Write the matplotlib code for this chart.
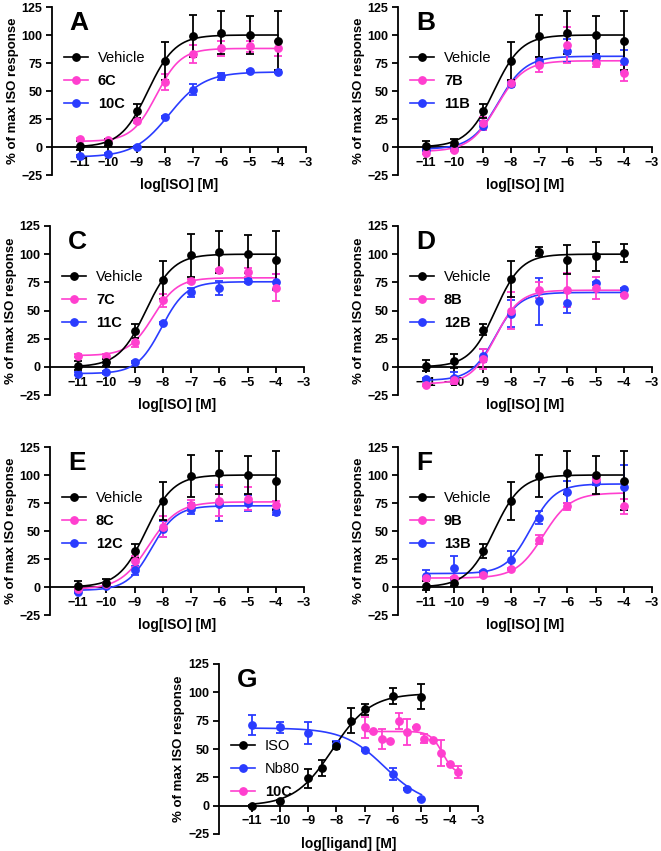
import numpy as np
import matplotlib
matplotlib.use('Agg')
from matplotlib import pyplot as plt
from matplotlib.lines import Line2D

plt.rcParams['font.family'] = ['Liberation Sans', 'DejaVu Sans']

BLACK = '#000000'
PINK = '#ff3fcf'
BLUE = '#2a3cff'

# concentrations, log M
iso_x = [-11, -10, -9, -8, -7, -6, -5, -4]

# vehicle (shared by A, B, C, E, F)
veh_y = [1, 4, 32, 77, 99, 102, 100, 95]
veh_err = [4, 3, 6, 17, 19, 19, 17, 26]
veh_fit = (0, 100, -8.6, 0.9)  # bottom, top, logEC50, hill

# A
a6c_y = [7, 6, 23, 58, 83, 88, 90, 88]
a6c_err = [1, 1, 2, 7, 8, 7, 5, 7]
a6c_fit = (5, 88, -8.3, 1.0)
a10c_y = [-8, -6, 0, 27, 51, 63, 68, 67]
a10c_err = [1, 1, 1, 1, 5, 3, 1, 1]
a10c_fit = (-9, 67, -7.85, 0.7)

# B
b7b_y = [-5, -3, 21, 57, 73, 91, 75, 66]
b7b_err = [1, 1, 6, 3, 6, 16, 4, 7]
b7b_fit = (-4, 77, -8.5, 0.9)
b11b_y = [-3, -2, 19, 56, 77, 86, 80, 77]
b11b_err = [1, 1, 4, 2, 3, 10, 3, 10]
b11b_fit = (-2, 81, -8.45, 0.9)

# C
c7c_y = [10, 10, 22, 59, 76, 86, 84, 70]
c7c_err = [1, 1, 4, 6, 2, 1, 4, 12]
c7c_fit = (10, 79, -8.35, 1.0)
c11c_y = [-6, -5, 4, 39, 66, 70, 76, 75]
c11c_err = [1, 1, 1, 1, 4, 6, 2, 7]
c11c_fit = (-6, 75.5, -8.05, 1.0)

# D
dveh_y = [1, 5, 33, 78, 102, 95, 98, 101]
dveh_err = [5, 6, 5, 16, 4, 13, 13, 8]
dveh_fit = (0, 100, -8.55, 0.95)
d8b_y = [-16, -12, 7, 50, 68, 68, 70, 64]
d8b_err = [1, 3, 9, 16, 7, 15, 10, 1]
d8b_fit = (-15, 68, -8.55, 1.0)
d12b_y = [-11, -10, 10, 47, 58, 57, 74, 69]
d12b_err = [1, 5, 6, 12, 21, 9, 1, 1]
d12b_fit = (-12, 66, -8.55, 1.0)

# E
e8c_y = [-1.5, 2.4, 23, 54, 73, 77, 79, 73]
e8c_err = [1, 1, 5, 9, 5, 14, 10, 4]
e8c_fit = (-2, 76, -8.5, 0.85)
e12c_y = [-4.5, 0.6, 15, 52, 70, 74, 75, 67]
e12c_err = [1, 1, 4, 7, 5, 15, 7, 3]
e12c_fit = (-3, 72.5, -8.4, 1.0)

# F
f9b_y = [8, 8, 11, 16, 42, 72, 96, 72]
f9b_err = [1, 1, 1, 1, 4, 3, 3, 7]
f9b_fit = (8, 84, -6.85, 0.9)
f13b_y = [10, 17, 13, 24, 62, 85, 94, 89]
f13b_err = [5, 11, 1, 8, 6, 10, 3, 20]
f13b_fit = (12, 92, -7.3, 1.0)

# G
g_iso_x = [-11, -10, -9, -8.5, -8, -7.5, -7, -6, -5]
g_iso_y = [0, 4.4, 24, 33, 53, 75, 85, 97, 96]
g_iso_err = [1, 1, 8, 7, 3, 11, 5, 7, 11]
g_iso_fit = (0, 99, -8.14, 0.65)
g_nb_x = [-11, -10, -9, -8, -7, -6, -5.5, -5]
g_nb_y = [71, 69, 64, 54, 49, 28, 15, 6]
g_nb_err = [9, 5, 10, 3, 1, 5, 1, 1]
g_nb_fit = (0, 68.5, -6.3, -0.6)
g_10c_x = [-7, -6.7, -6.4, -6.1, -5.8, -5.5, -5.2, -4.9, -4.6, -4.3, -4.0, -3.7]
g_10c_y = [69, 65.5, 58.7, 57.5, 75, 65, 69, 59, 58, 46.5, 36.7, 29.6]
g_10c_err = [9, 0, 9, 0, 7, 11.5, 0, 4, 0, 11.5, 0, 5.5]
g_10c_fit = (27, 65.5, -4.25, -2.0)


def fourpl(x, fit):
    bottom, top, ec, hill = fit
    return bottom + (top - bottom) / (1 + 10 ** (hill * (ec - x)))


def series(ax, x, y, err, fit, color):
    xs = np.linspace(min(x), max(x), 200)
    ax.plot(xs, fourpl(xs, fit), color=color, lw=1.2, zorder=3, clip_on=False)
    ax.errorbar(x, y, yerr=err, fmt='o', color=color, ms=5.3, elinewidth=1.3,
                capsize=3, capthick=1.3, zorder=4, clip_on=False)


def style(ax, letter, xlabel, xmin=-12):
    ax.set_xlim(xmin, -3)
    ax.set_ylim(-25, 125)
    for s in ['top', 'right']:
        ax.spines[s].set_visible(False)
    ax.spines['bottom'].set_position(('data', 0))
    ax.spines['bottom'].set_bounds(xmin, -3)
    ax.spines['left'].set_bounds(-25, 125)
    for s in ['bottom', 'left']:
        ax.spines[s].set_linewidth(1.3)
    ax.set_xticks(range(-11, -2))
    ax.set_yticks(range(-25, 126, 25))
    ax.tick_params(width=1.3, length=4, labelsize=9, pad=3)
    for t in ax.get_xticklabels() + ax.get_yticklabels():
        t.set_fontweight('bold')
    ax.set_xlabel(xlabel, fontsize=10, fontweight='bold')
    ax.xaxis.set_label_coords(0.5, -0.02)
    ax.set_ylabel('% of max ISO response', fontsize=9.5, fontweight='bold')
    ax.yaxis.set_label_coords(-0.13, 0.5)
    ax.text(0.07, 0.975, letter, transform=ax.transAxes, fontsize=19,
            fontweight='bold', va='top', ha='left')


def legend(ax, labels, colors, bold, y=0.78):
    handles = [Line2D([], [], color=c, marker='o', ms=5.3, lw=1.2) for c in colors]
    leg = ax.legend(handles, labels, loc='upper left', bbox_to_anchor=(0.02, y),
                    frameon=False, fontsize=10.5, handlelength=1.6,
                    handletextpad=0.7, labelspacing=0.6, borderpad=0)
    for t, b in zip(leg.get_texts(), bold):
        if b:
            t.set_fontweight('bold')


fig = plt.figure(figsize=(6.61, 8.51), dpi=100)
W, H = 661, 851


def axes(left, top, right, bottom):
    return fig.add_axes([left / W, 1 - bottom / H, (right - left) / W, (bottom - top) / H])


panels = [
    ('A', axes(52, 7, 306, 175), [(veh_y, veh_err, veh_fit, BLACK), (a6c_y, a6c_err, a6c_fit, PINK), (a10c_y, a10c_err, a10c_fit, BLUE)], ['Vehicle', '6C', '10C']),
    ('B', axes(398, 7, 652, 175), [(veh_y, veh_err, veh_fit, BLACK), (b7b_y, b7b_err, b7b_fit, PINK), (b11b_y, b11b_err, b11b_fit, BLUE)], ['Vehicle', '7B', '11B']),
    ('C', axes(50, 226, 304, 395), [(veh_y, veh_err, veh_fit, BLACK), (c7c_y, c7c_err, c7c_fit, PINK), (c11c_y, c11c_err, c11c_fit, BLUE)], ['Vehicle', '7C', '11C']),
    ('D', axes(398, 226, 652, 395), [(dveh_y, dveh_err, dveh_fit, BLACK), (d8b_y, d8b_err, d8b_fit, PINK), (d12b_y, d12b_err, d12b_fit, BLUE)], ['Vehicle', '8B', '12B']),
    ('E', axes(50, 447, 304, 615), [(veh_y, veh_err, veh_fit, BLACK), (e8c_y, e8c_err, e8c_fit, PINK), (e12c_y, e12c_err, e12c_fit, BLUE)], ['Vehicle', '8C', '12C']),
    ('F', axes(398, 447, 652, 615), [(veh_y, veh_err, veh_fit, BLACK), (f9b_y, f9b_err, f9b_fit, PINK), (f13b_y, f13b_err, f13b_fit, BLUE)], ['Vehicle', '9B', '13B']),
]

for letter, ax, data, labels in panels:
    for y, err, fit, c in reversed(data):
        series(ax, iso_x, y, err, fit, c)
    style(ax, letter, 'log[ISO] [M]')
    legend(ax, labels, [BLACK, PINK, BLUE], [False, True, True])

axg = axes(219, 664, 478, 834)
series(axg, g_10c_x, g_10c_y, g_10c_err, g_10c_fit, PINK)
series(axg, g_nb_x, g_nb_y, g_nb_err, g_nb_fit, BLUE)
series(axg, g_iso_x, g_iso_y, g_iso_err, g_iso_fit, BLACK)
style(axg, 'G', 'log[ligand] [M]', xmin=-12.15)
legend(axg, ['ISO', 'Nb80', '10C'], [BLACK, BLUE, PINK], [False, False, True], y=0.6)

fig.savefig('out.png', dpi=100)
